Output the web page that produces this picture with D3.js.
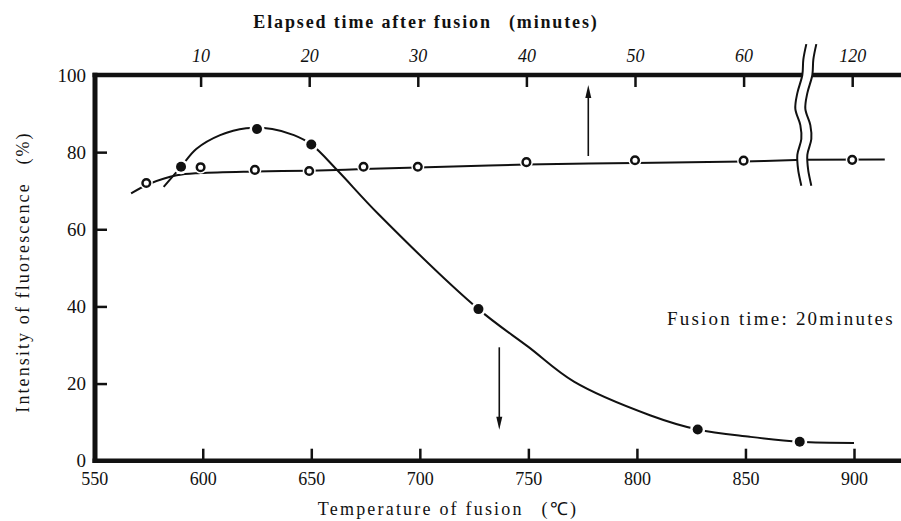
<!DOCTYPE html>
<html>
<head>
<meta charset="utf-8">
<script src="https://cdn.jsdelivr.net/npm/d3@7"></script>
<style>
  body { margin: 0; background: #fff; }
</style>
</head>
<body>
<script>
// filled circles: intensity vs temperature of fusion (bottom axis)
const tempPoints = [590, 625, 650, 727, 828, 875];
const tempValues = [76.2, 86.0, 82.0, 39.3, 8.1, 4.9];
// hand-drawn curve through the filled circles
const tempCurveX = [582, 590, 597, 608, 620, 632, 642, 650, 662, 681, 727, 750, 771, 806, 828, 852, 875, 900];
const tempCurveY = [71.0, 76.2, 80.8, 84.4, 86.2, 86.0, 84.4, 82.0, 75.3, 63.9, 39.3, 29.5, 20.5, 11.8, 8.1, 6.2, 4.9, 4.6];

// open circles: intensity vs elapsed time after fusion (top axis)
const timePoints = [5, 10, 15, 20, 25, 30, 40, 50, 60, 120];
const timeValues = [72.0, 76.1, 75.4, 75.1, 76.2, 76.2, 77.4, 77.9, 77.8, 78.0];
const timeCurveX = [3.6, 5.3, 7.8, 10, 15, 20, 25, 30, 40, 50, 60, 65.5];
const timeCurveY = [69.3, 71.8, 74.0, 74.6, 75.0, 75.2, 75.6, 76.0, 76.8, 77.2, 77.6, 78.0];
const timeCurve2X = [115.5, 123];
const timeCurve2Y = [78.0, 78.1];

const bottomTicks = [550, 600, 650, 700, 750, 800, 850, 900];
const topTicks = [10, 20, 30, 40, 50, 60, 120];
const leftTicks = [0, 20, 40, 60, 80, 100];

const serif = "'Liberation Serif', 'Times New Roman', serif";

let width = 901, height = 521;

let svg = d3.select("body").append("svg")
  .attr("width", width)
  .attr("height", height)
  .style("font-family", serif);

// scales
let x = d3.scaleLinear().domain([550, 900]).range([94.2, 854]);
let k = 10.86; // px per minute on the top axis
let xTop = d3.scaleLinear().domain([0, 65.5, 115.5, 130])
  .range([92, 92 + 65.5 * k, 92 + 65.5 * k, 92 + 80 * k]);
let y = d3.scaleLinear().domain([0, 100]).range([460.7, 75]);

// bottom axis (ticks point up into the plot)
let gx = svg.append("g")
  .attr("transform", "translate(0," + y(0) + ")")
  .call(d3.axisBottom(x).tickValues(bottomTicks).tickSizeInner(-12).tickSizeOuter(0).tickPadding(12));

// top axis (ticks point down)
let gt = svg.append("g")
  .attr("transform", "translate(0," + y(100) + ")")
  .call(d3.axisTop(xTop).tickValues(topTicks).tickSizeInner(-12).tickSizeOuter(0).tickPadding(13));

// left axis (ticks point right)
let gy = svg.append("g")
  .attr("transform", "translate(95,0)")
  .call(d3.axisLeft(y).tickValues(leftTicks).tickSizeInner(-12).tickSizeOuter(0).tickPadding(9));

[gx, gt, gy].forEach(g => {
  g.attr("font-family", null);
  g.select(".domain").remove();
  g.selectAll(".tick line").attr("stroke", "#111").attr("stroke-width", 2.5);
  g.selectAll(".tick text").style("font-family", serif).attr("fill", "#111");
});
gx.selectAll(".tick text").attr("font-size", 18);
gy.selectAll(".tick text").attr("font-size", 19);
gt.selectAll(".tick text").attr("font-size", 18).attr("font-style", "italic");

// heavy frame lines
svg.append("line").attr("x1", 92.5).attr("x2", width).attr("y1", y(100)).attr("y2", y(100))
  .attr("stroke", "#111").attr("stroke-width", 4.5);
svg.append("line").attr("x1", 92.5).attr("x2", width).attr("y1", y(0)).attr("y2", y(0))
  .attr("stroke", "#111").attr("stroke-width", 4.5);
svg.append("line").attr("x1", 95).attr("x2", 95).attr("y1", y(100) - 2.2).attr("y2", y(0) + 2.2)
  .attr("stroke", "#111").attr("stroke-width", 5);

// curves
let lineT = d3.line().x(d => x(d[0])).y(d => y(d[1])).curve(d3.curveCatmullRom);
let lineM = d3.line().x(d => xTop(d[0])).y(d => y(d[1])).curve(d3.curveCatmullRom);

svg.append("path")
  .datum(d3.zip(timeCurveX, timeCurveY))
  .attr("d", lineM).attr("fill", "none").attr("stroke", "#111").attr("stroke-width", 2);
svg.append("path")
  .datum(d3.zip(timeCurve2X, timeCurve2Y))
  .attr("d", lineM).attr("fill", "none").attr("stroke", "#111").attr("stroke-width", 2);
svg.append("path")
  .datum(d3.zip(tempCurveX, tempCurveY))
  .attr("d", lineT).attr("fill", "none").attr("stroke", "#111").attr("stroke-width", 2);

// axis break (double wavy line) on the time axis
let breakAt = 65.5;
let waveV = [108, 104, 100, 95.3, 91.2, 87, 83.4, 79.3, 75.1, 71.3];
let waveOff = [3, 0, -1, -6, -8, -3, -2, -6, -5, -2];
let wave = d3.zip(waveV, waveOff);
let bx = xTop(breakAt);
svg.append("path")
  .datum(wave)
  .attr("d", d3.area().y(d => y(d[0])).x0(d => bx + d[1]).x1(d => bx + d[1] + 10).curve(d3.curveCatmullRom))
  .attr("fill", "#fff");
[0, 10].forEach(dx => {
  svg.append("path")
    .datum(wave)
    .attr("d", d3.line().y(d => y(d[0])).x(d => bx + d[1] + dx).curve(d3.curveCatmullRom))
    .attr("fill", "none").attr("stroke", "#111").attr("stroke-width", 2);
});

// markers, with a white halo so the curve stops short of them
svg.append("g").selectAll("circle")
  .data(d3.zip(timePoints, timeValues))
  .join("circle")
  .attr("cx", d => xTop(d[0])).attr("cy", d => y(d[1])).attr("r", 6.5)
  .attr("fill", "#fff");
svg.append("g").selectAll("circle")
  .data(d3.zip(timePoints, timeValues))
  .join("circle")
  .attr("cx", d => xTop(d[0])).attr("cy", d => y(d[1])).attr("r", 3.8)
  .attr("fill", "#fff").attr("stroke", "#111").attr("stroke-width", 2.5);

svg.append("g").selectAll("circle")
  .data(d3.zip(tempPoints, tempValues))
  .join("circle")
  .attr("cx", d => x(d[0])).attr("cy", d => y(d[1])).attr("r", 7.5)
  .attr("fill", "#fff");
svg.append("g").selectAll("circle")
  .data(d3.zip(tempPoints, tempValues))
  .join("circle")
  .attr("cx", d => x(d[0])).attr("cy", d => y(d[1])).attr("r", 5)
  .attr("fill", "#111");

// arrows
const arrowAt = [777.6, 736.6];
const arrowFrom = [79, 29.4];
const arrowTo = [97.4, 8.0];
arrowAt.forEach((t, i) => {
  let ax = x(t), y0 = y(arrowFrom[i]), y1 = y(arrowTo[i]);
  let dir = y1 < y0 ? 1 : -1;
  svg.append("line").attr("x1", ax).attr("x2", ax).attr("y1", y0).attr("y2", y1 + dir * 10)
    .attr("stroke", "#111").attr("stroke-width", 1.6);
  svg.append("path")
    .attr("d", "M" + ax + "," + y1 + "L" + (ax - 3) + "," + (y1 + dir * 13) + "L" + (ax + 3) + "," + (y1 + dir * 13) + "Z")
    .attr("fill", "#111");
});

// titles
svg.append("text")
  .attr("x", 426).attr("y", 28)
  .attr("text-anchor", "middle")
  .style("font-family", serif)
  .attr("font-size", 18).attr("font-weight", "bold").attr("letter-spacing", 1.85)
  .attr("fill", "#111")
  .text("Elapsed time after fusion\u2002 (minutes)");

svg.append("text")
  .attr("x", 448).attr("y", 515)
  .attr("text-anchor", "middle")
  .style("font-family", serif)
  .attr("font-size", 18).attr("letter-spacing", 2.2)
  .attr("fill", "#111")
  .text("Temperature of fusion\u2002 (\u2103)");

svg.append("text")
  .attr("transform", "translate(29,272) rotate(-90)")
  .attr("text-anchor", "middle")
  .style("font-family", serif)
  .attr("font-size", 18).attr("letter-spacing", 2.1)
  .attr("fill", "#111")
  .text("Intensity of fluorescence\u2002 (%)");

svg.append("text")
  .attr("x", 667).attr("y", 325)
  .style("font-family", serif)
  .attr("font-size", 19).attr("letter-spacing", 2.2)
  .attr("fill", "#111")
  .text("Fusion time: 20minutes");
</script>
</body>
</html>
